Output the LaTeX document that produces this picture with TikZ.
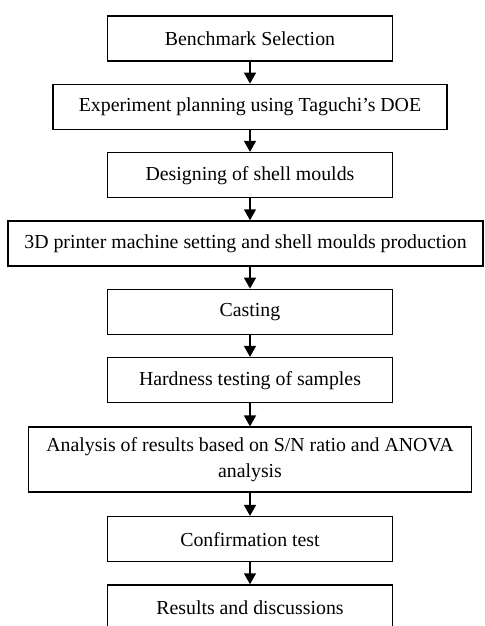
\documentclass[tikz,border=0pt]{standalone}
\usepackage{fontspec}
\setmainfont{Liberation Serif}
\usepackage{tikz}
\usetikzlibrary{positioning,arrows.meta}
\tikzset{node distance=41pt, auto,
  stage/.style={draw, line width=0.9pt, minimum width=171pt, minimum height=27pt,
    align=center, inner sep=2pt, font=\fontsize{11.9}{15.6}\selectfont},
  flow/.style={-{Triangle[length=6.6pt,width=7.2pt]}, line width=0.9pt}}

\begin{document}
\begin{tikzpicture}
              \useasboundingbox (-150pt,23.1pt) rectangle (140.4pt,-352.5pt);

              \node (sel) [stage] {Benchmark Selection};
              \node (doe) [stage, below of=sel, minimum width=236.4pt] {Experiment planning using Taguchi's DOE};
              \node (design) [stage, below of=doe] {Designing of shell moulds};
              \node (print) [stage, below of=design, xshift=-2.7pt, minimum width=285pt] {3D printer machine setting and shell moulds production};
              \node (cast) [stage, below of=print, xshift=2.7pt] {Casting};
              \node (hard) [stage, below of=cast] {Hardness testing of samples};
              \node (ana) [stage, below of=hard, node distance=47.7pt, minimum width=265.8pt, minimum height=39pt] {Analysis of results based on S/N ratio and ANOVA\\analysis};
              \node (conf) [stage, below of=ana, node distance=47.7pt] {Confirmation test};
              \node (res) [stage, below of=conf] {Results and discussions};

              \draw [flow] (sel) to (doe);
              \draw [flow] (doe) to (design);
              \draw [flow] (design) -- (design |- print.north);
              \draw [flow] (cast |- print.south) -- (cast);
              \draw [flow] (cast) to (hard);
              \draw [flow] (hard) to (ana);
              \draw [flow] (ana) to (conf);
              \draw [flow] (conf) to (res);
            \end{tikzpicture}
\end{document}
